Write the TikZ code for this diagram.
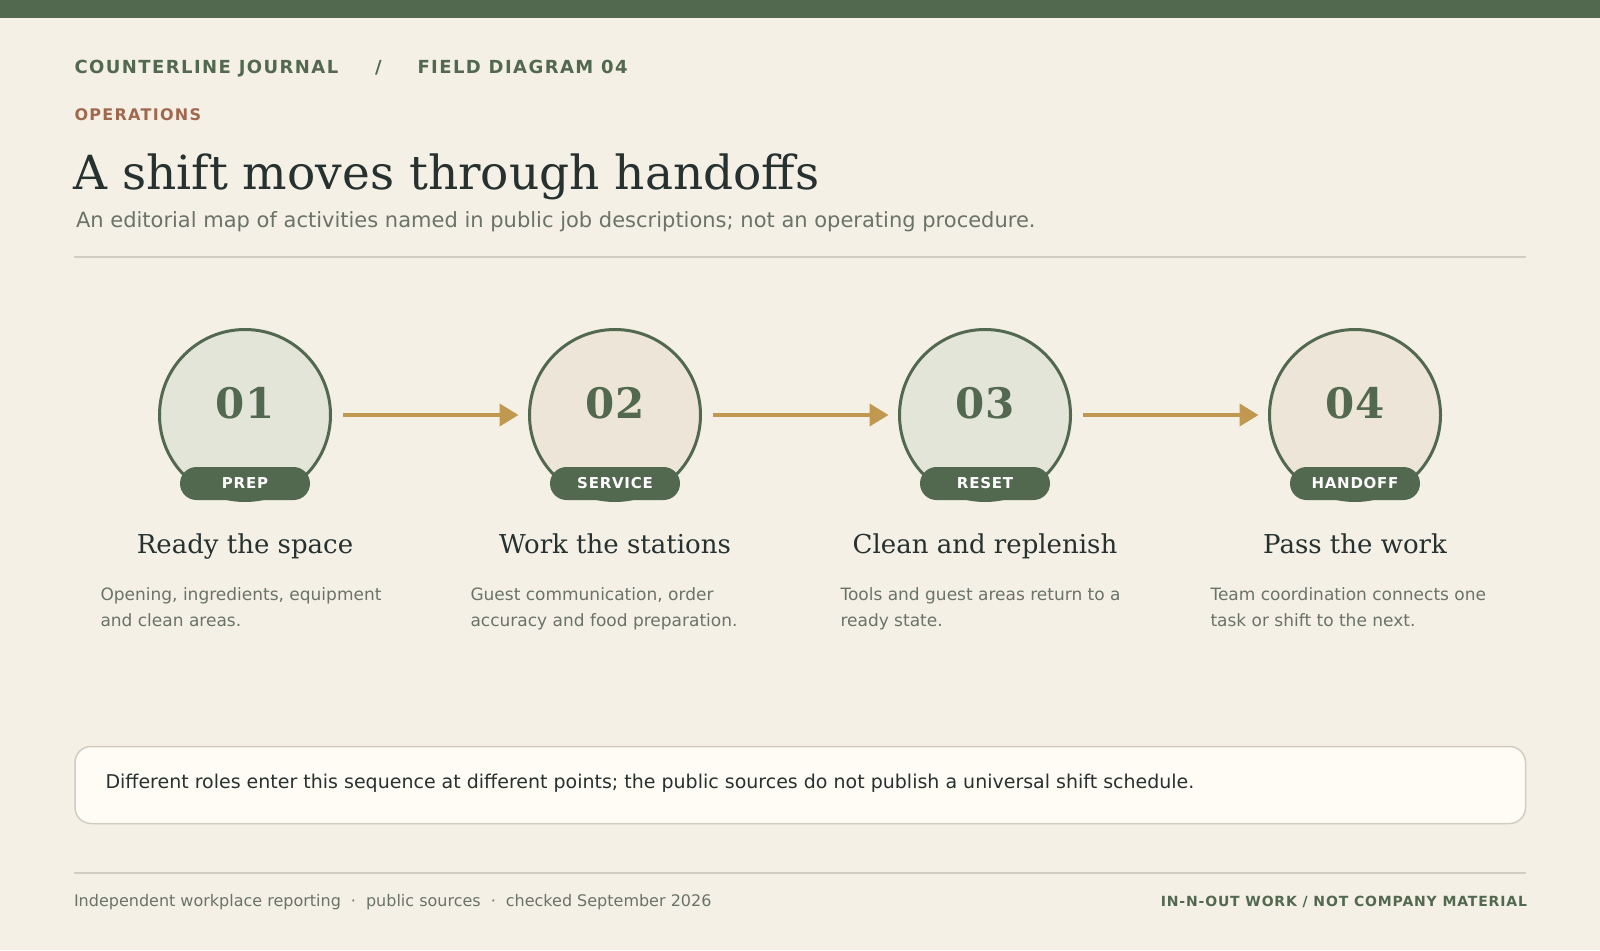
\documentclass[tikz,border=0pt]{standalone}
\usepackage{fontspec}
\setmainfont{DejaVu Serif}
\setsansfont{DejaVu Sans}
\newfontfamily\hdrfont[LetterSpace=8]{DejaVu Sans}
\newfontfamily\pillfont[LetterSpace=5]{DejaVu Sans}
\newfontfamily\footfont[LetterSpace=6]{DejaVu Sans}
\usetikzlibrary{arrows.meta}
\definecolor{bg}{HTML}{F4F0E6}
\definecolor{moss}{HTML}{52684F}
\definecolor{clay}{HTML}{A0684E}
\definecolor{ink}{HTML}{263130}
\definecolor{mute}{HTML}{6B7368}
\definecolor{rulec}{HTML}{CFCEC0}
\definecolor{fillA}{HTML}{E3E5D9}
\definecolor{fillB}{HTML}{EDE6D8}
\definecolor{gold}{HTML}{C0984F}
\definecolor{notebg}{HTML}{FFFCF5}
\tikzset{
  txt/.style={inner sep=0pt, outer sep=0pt},
  stepcircle/.style={circle, draw=moss, line width=3pt, minimum size=171pt, inner sep=0pt},
  stepnum/.style={txt, anchor=base, text=moss, font=\fontsize{42}{42}\selectfont\bfseries},
  pill/.style={rectangle, rounded corners=16.5pt, fill=moss, minimum width=130pt, minimum height=33pt, inner sep=0pt, text=white, font=\pillfont\fontsize{15}{15}\selectfont\bfseries},
  steptitle/.style={txt, anchor=base, text=ink, font=\fontsize{26}{26}\selectfont},
  stepdesc/.style={txt, anchor=base west, text=mute, font=\sffamily\fontsize{17}{17}\selectfont},
  flow/.style={draw=gold, line width=4pt, -{Triangle[length=19pt,width=22pt]}},
}
\begin{document}
\begin{tikzpicture}[x=1pt,y=-1pt]
\useasboundingbox (0,0) rectangle (1600,950);
\fill[bg] (0,0) rectangle (1600,950);
\fill[moss] (0,0) rectangle (1600,18.5);

% header
\node[txt, anchor=base west, text=moss, font=\hdrfont\fontsize{18}{18}\selectfont\bfseries] (h1) at (74.5,74) {COUNTERLINE JOURNAL};
\node[txt, anchor=base west, text=moss, font=\hdrfont\fontsize{18}{18}\selectfont\bfseries] (h2) at (375,74) {/};
\node[txt, anchor=base west, text=moss, font=\hdrfont\fontsize{18}{18}\selectfont\bfseries] (h3) at (417.5,74) {FIELD DIAGRAM 04};
\node[txt, anchor=base west, text=clay, font=\hdrfont\fontsize{16}{16}\selectfont\bfseries] (kick) at (74.5,120) {OPERATIONS};
\node[txt, anchor=base west, text=ink, font=\fontsize{47}{47}\selectfont] (title) at (73.5,189) {A shift moves through handoffs};
\node[txt, anchor=base west, text=mute, font=\sffamily\fontsize{21}{21}\selectfont] (sub) at (76,227) {An editorial map of activities named in public job descriptions; not an operating procedure.};
\draw[rulec, line width=2pt] (74,257) -- (1526,257);

% steps
\foreach \i/\cx/\fc/\num/\tag/\ttl/\da/\db in {
  1/245/fillA/01/PREP/Ready the space/{Opening, ingredients, equipment}/{and clean areas.},
  2/615/fillB/02/SERVICE/Work the stations/{Guest communication, order}/{accuracy and food preparation.},
  3/985/fillA/03/RESET/Clean and replenish/{Tools and guest areas return to a}/{ready state.},
  4/1355/fillB/04/HANDOFF/Pass the work/{Team coordination connects one}/{task or shift to the next.}}{
  \node[stepcircle, fill=\fc] (c\i) at (\cx,415) {};
  \node[stepnum] (n\i) at (\cx,418) {\num};
  \node[pill] (p\i) at (\cx,483.5) {\tag};
  \node[steptitle] (t\i) at (\cx,553) {\ttl};
  \node[stepdesc] (da\i) at (\cx-144.5,600) {\da};
  \node[stepdesc] (db\i) at (\cx-144.5,626) {\db};
}
\draw[flow] ([xshift=11pt]c1.east) -- ([xshift=-9.5pt]c2.west);
\draw[flow] ([xshift=11pt]c2.east) -- ([xshift=-9.5pt]c3.west);
\draw[flow] ([xshift=11pt]c3.east) -- ([xshift=-9.5pt]c4.west);

% note
\draw[rulec, fill=notebg, line width=1.5pt, rounded corners=16pt] (75,746.5) rectangle (1525.5,823.5);
\node[txt, anchor=base west, text=ink, font=\sffamily\fontsize{19}{19}\selectfont] (note) at (105.5,788.5) {Different roles enter this sequence at different points; the public sources do not publish a universal shift schedule.};

% footer
\draw[rulec, line width=2pt] (74,872.5) -- (1526,872.5);
\node[txt, anchor=base west, text=mute, font=\sffamily\fontsize{16}{16}\selectfont] (f1) at (74,906) {Independent workplace reporting\hspace{10pt}·\hspace{10pt}public sources\hspace{10pt}·\hspace{10pt}checked September 2026};
\node[txt, anchor=base east, text=moss, font=\footfont\fontsize{14}{14}\selectfont\bfseries] (f2) at (1527,906) {IN-N-OUT WORK / NOT COMPANY MATERIAL};
\end{tikzpicture}
\end{document}
